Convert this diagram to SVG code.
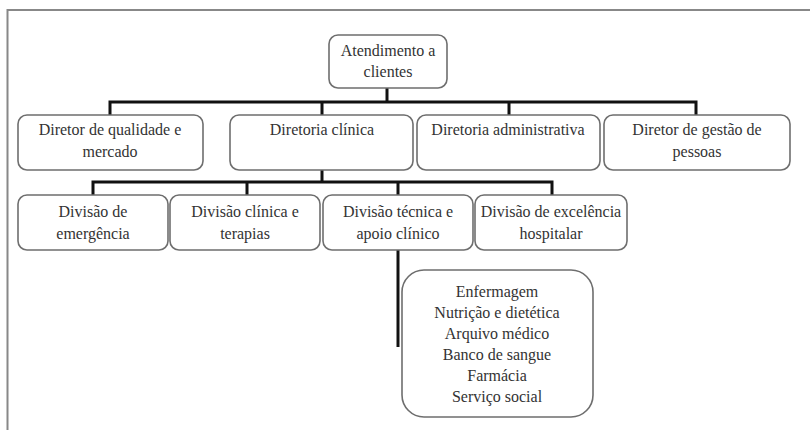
<svg xmlns="http://www.w3.org/2000/svg" width="810" height="430" viewBox="0 0 810 430">
<style>
.box{fill:#fff;stroke:#6e6e6e;stroke-width:1.6}
.t{font-family:'Liberation Serif','DejaVu Serif','Times New Roman',serif;font-size:16px;fill:#333;text-anchor:middle}
.c{stroke:#111;stroke-width:3;fill:none}
</style>
<rect width="810" height="430" fill="#fff"/>
<g id="frame"><path d="M7.5 430 V10 H810" fill="none" stroke="#888" stroke-width="2"/></g>
<g id="connectors">
<path class="c" d="M387 88 V102"/>
<path class="c" d="M110 115 V102 H696 V115"/>
<path class="c" d="M322 102 V115 M509 102 V115"/>
<path class="c" d="M322 170 V182"/>
<path class="c" d="M93 195 V182 H552 V195"/>
<path class="c" d="M247 182 V195 M398 182 V195"/>
<path class="c" d="M398 250 V347"/>
</g>
<g id="n0"><rect class="box" x="329" y="35" width="118" height="53" rx="9"/><text class="t" x="388" y="56">Atendimento a</text><text class="t" x="388" y="77">clientes</text></g>
<g id="n1"><rect class="box" x="18" y="115" width="185" height="55" rx="9"/><text class="t" x="110" y="135">Diretor de qualidade e</text><text class="t" x="110" y="157">mercado</text></g>
<g id="n2"><rect class="box" x="230" y="115" width="183" height="55" rx="9"/><text class="t" x="322" y="135">Diretoria clínica</text></g>
<g id="n3"><rect class="box" x="417" y="115" width="183" height="55" rx="9"/><text class="t" x="508" y="135">Diretoria administrativa</text></g>
<g id="n4"><rect class="box" x="604" y="115" width="186" height="55" rx="9"/><text class="t" x="697" y="135">Diretor de gestão de</text><text class="t" x="697" y="157">pessoas</text></g>
<g id="n5"><rect class="box" x="18" y="195" width="150" height="55" rx="9"/><text class="t" x="93" y="217">Divisão de</text><text class="t" x="93" y="239">emergência</text></g>
<g id="n6"><rect class="box" x="170" y="195" width="150" height="55" rx="9"/><text class="t" x="245" y="217">Divisão clínica e</text><text class="t" x="245" y="239">terapias</text></g>
<g id="n7"><rect class="box" x="323" y="195" width="150" height="55" rx="9"/><text class="t" x="398" y="217">Divisão técnica e</text><text class="t" x="398" y="239">apoio clínico</text></g>
<g id="n8"><rect class="box" x="475" y="195" width="152" height="55" rx="9"/><text class="t" x="551" y="217">Divisão de excelência</text><text class="t" x="551" y="239">hospitalar</text></g>
<g id="n9"><rect class="box" x="402" y="270" width="191" height="147" rx="22"/>
<text class="t" x="497" y="297">Enfermagem</text>
<text class="t" x="497" y="318">Nutrição e dietética</text>
<text class="t" x="497" y="339">Arquivo médico</text>
<text class="t" x="497" y="360">Banco de sangue</text>
<text class="t" x="497" y="381">Farmácia</text>
<text class="t" x="497" y="402">Serviço social</text></g>
</svg>
